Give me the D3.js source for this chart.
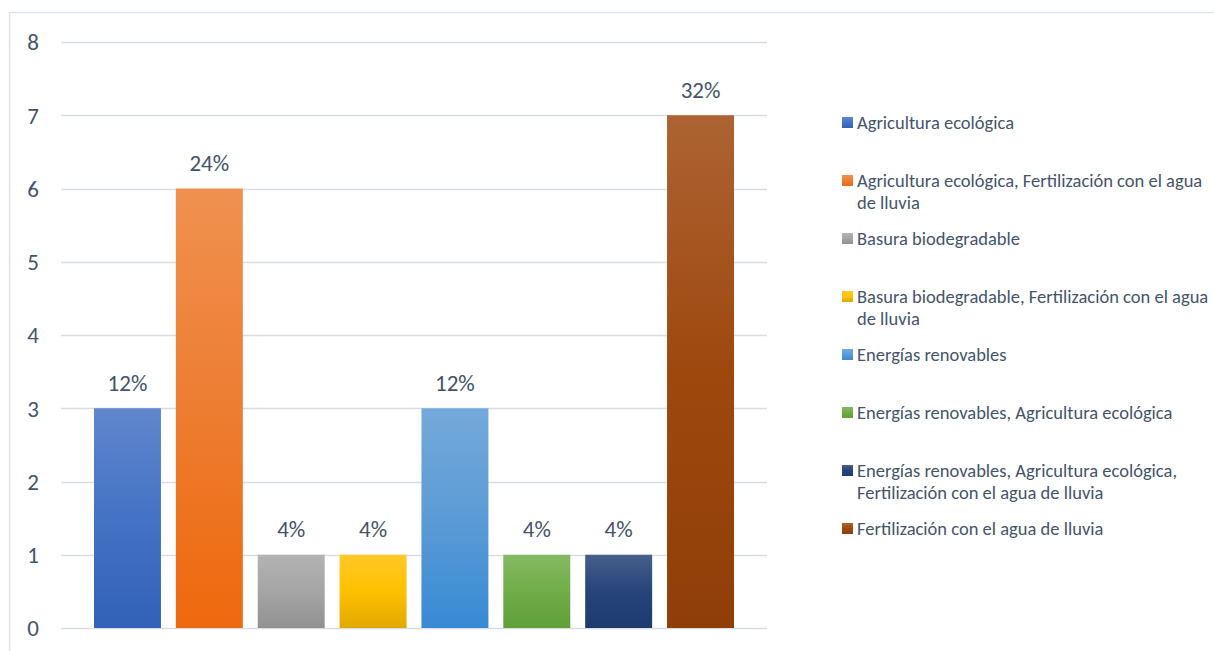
<!DOCTYPE html>
<html>
<head>
    <title>Bar chart</title>
    <script src="https://d3js.org/d3.v7.min.js"></script>
    <style>
        html, body { margin: 0; padding: 0; background: #fff; }
        svg { display: block; }
        text { font-family: Carlito, Lato, "Open Sans", sans-serif; fill: #44546A; }
    </style>
</head>
<body>
    <div id="chart"></div>

    <script>
        // datos del gráfico
        var categories = [
            "Agricultura ecológica",
            "Agricultura ecológica, Fertilización con el agua de lluvia",
            "Basura biodegradable",
            "Basura biodegradable, Fertilización con el agua de lluvia",
            "Energías renovables",
            "Energías renovables, Agricultura ecológica",
            "Energías renovables, Agricultura ecológica, Fertilización con el agua de lluvia",
            "Fertilización con el agua de lluvia"
        ];
        var values = [3, 6, 1, 1, 3, 1, 1, 7];
        var percentLabels = ["12%", "24%", "4%", "4%", "12%", "4%", "4%", "32%"];
        var colors = ["#4472C4", "#ED7D31", "#A5A5A5", "#FFC000", "#5B9BD5", "#70AD47", "#264478", "#9E480E"];
        var yTicks = [0, 1, 2, 3, 4, 5, 6, 7, 8];

        var width = 1214, height = 651;
        var plot = { left: 61, right: 767, top: 42, bottom: 628 };

        var svg = d3.select("#chart").append("svg")
            .attr("width", width)
            .attr("height", height);

        // borde del área del gráfico
        svg.append("rect")
            .attr("x", 9.5).attr("y", 12.5)
            .attr("width", width).attr("height", height)
            .attr("fill", "none")
            .attr("stroke", "#DEE2E8")
            .attr("stroke-width", 1.5);

        var x = d3.scaleBand()
            .domain(categories)
            .range([plot.left, plot.right])
            .paddingInner(0.182)
            .paddingOuter(0.403);

        var y = d3.scaleLinear()
            .domain([0, 8])
            .range([plot.bottom, plot.top]);

        // degradados de las barras (claro arriba, más oscuro abajo)
        var defs = svg.append("defs");
        colors.forEach(function(c, i) {
            var base = d3.hsl(c);
            var top = d3.interpolateRgb(c, "#fff")(0.15);
            var bottom = d3.hsl(base.h, base.s > 0 ? Math.min(1, base.s + 0.06) : 0, base.l * 0.88);
            var g = defs.append("linearGradient")
                .attr("id", "grad" + i)
                .attr("x1", 0).attr("y1", 0).attr("x2", 0).attr("y2", 1);
            g.append("stop").attr("offset", "0%").attr("stop-color", top);
            g.append("stop").attr("offset", "50%").attr("stop-color", c);
            g.append("stop").attr("offset", "100%").attr("stop-color", bottom.formatHex());
        });

        // líneas de cuadrícula
        svg.append("g")
            .selectAll("line")
            .data(yTicks)
            .enter().append("line")
            .attr("x1", plot.left).attr("x2", plot.right)
            .attr("y1", function(d) { return Math.round(y(d)) + 0.5; })
            .attr("y2", function(d) { return Math.round(y(d)) + 0.5; })
            .attr("stroke", "#D9DDE3")
            .attr("stroke-width", 1.5);

        // etiquetas del eje Y
        svg.append("g")
            .selectAll("text")
            .data(yTicks)
            .enter().append("text")
            .attr("x", 39)
            .attr("y", function(d) { return y(d); })
            .attr("dy", "0.36em")
            .attr("text-anchor", "end")
            .style("font-size", "23px")
            .text(function(d) { return d; });

        // barras
        svg.append("g")
            .selectAll("rect")
            .data(values)
            .enter().append("rect")
            .attr("x", function(d, i) { return x(categories[i]); })
            .attr("y", function(d) { return y(d); })
            .attr("width", x.bandwidth())
            .attr("height", function(d) { return y(0) - y(d); })
            .attr("fill", function(d, i) { return "url(#grad" + i + ")"; });

        // etiquetas de datos
        svg.append("g")
            .selectAll("text")
            .data(values)
            .enter().append("text")
            .attr("x", function(d, i) { return x(categories[i]) + x.bandwidth() / 2; })
            .attr("y", function(d) { return y(d) - 26; })
            .attr("dy", "0.36em")
            .attr("text-anchor", "middle")
            .style("font-size", "23px")
            .text(function(d, i) { return percentLabels[i]; });

        // leyenda
        var legendX = 842, legendTop = 122, legendStep = 58, lineH = 22, maxW = 368;
        var legend = svg.append("g");
        categories.forEach(function(cat, i) {
            var cy = legendTop + i * legendStep;
            legend.append("rect")
                .attr("x", legendX).attr("y", cy - 5)
                .attr("width", 11).attr("height", 11)
                .attr("fill", "url(#grad" + i + ")");
            var t = legend.append("text")
                .attr("x", legendX + 15)
                .attr("y", cy)
                .style("font-size", "18.5px");
            // ajuste de texto en varias líneas
            var words = cat.split(" "), line = [], lineNo = 0;
            var tspan = t.append("tspan").attr("x", legendX + 15).attr("dy", "0.36em");
            words.forEach(function(w) {
                line.push(w);
                tspan.text(line.join(" "));
                if (tspan.node().getComputedTextLength() > maxW - 15 && line.length > 1) {
                    line.pop();
                    tspan.text(line.join(" "));
                    line = [w];
                    lineNo++;
                    tspan = t.append("tspan")
                        .attr("x", legendX + 15)
                        .attr("y", cy + lineNo * lineH)
                        .attr("dy", "0.36em")
                        .text(w);
                }
            });
        });
    </script>
</body>
</html>
